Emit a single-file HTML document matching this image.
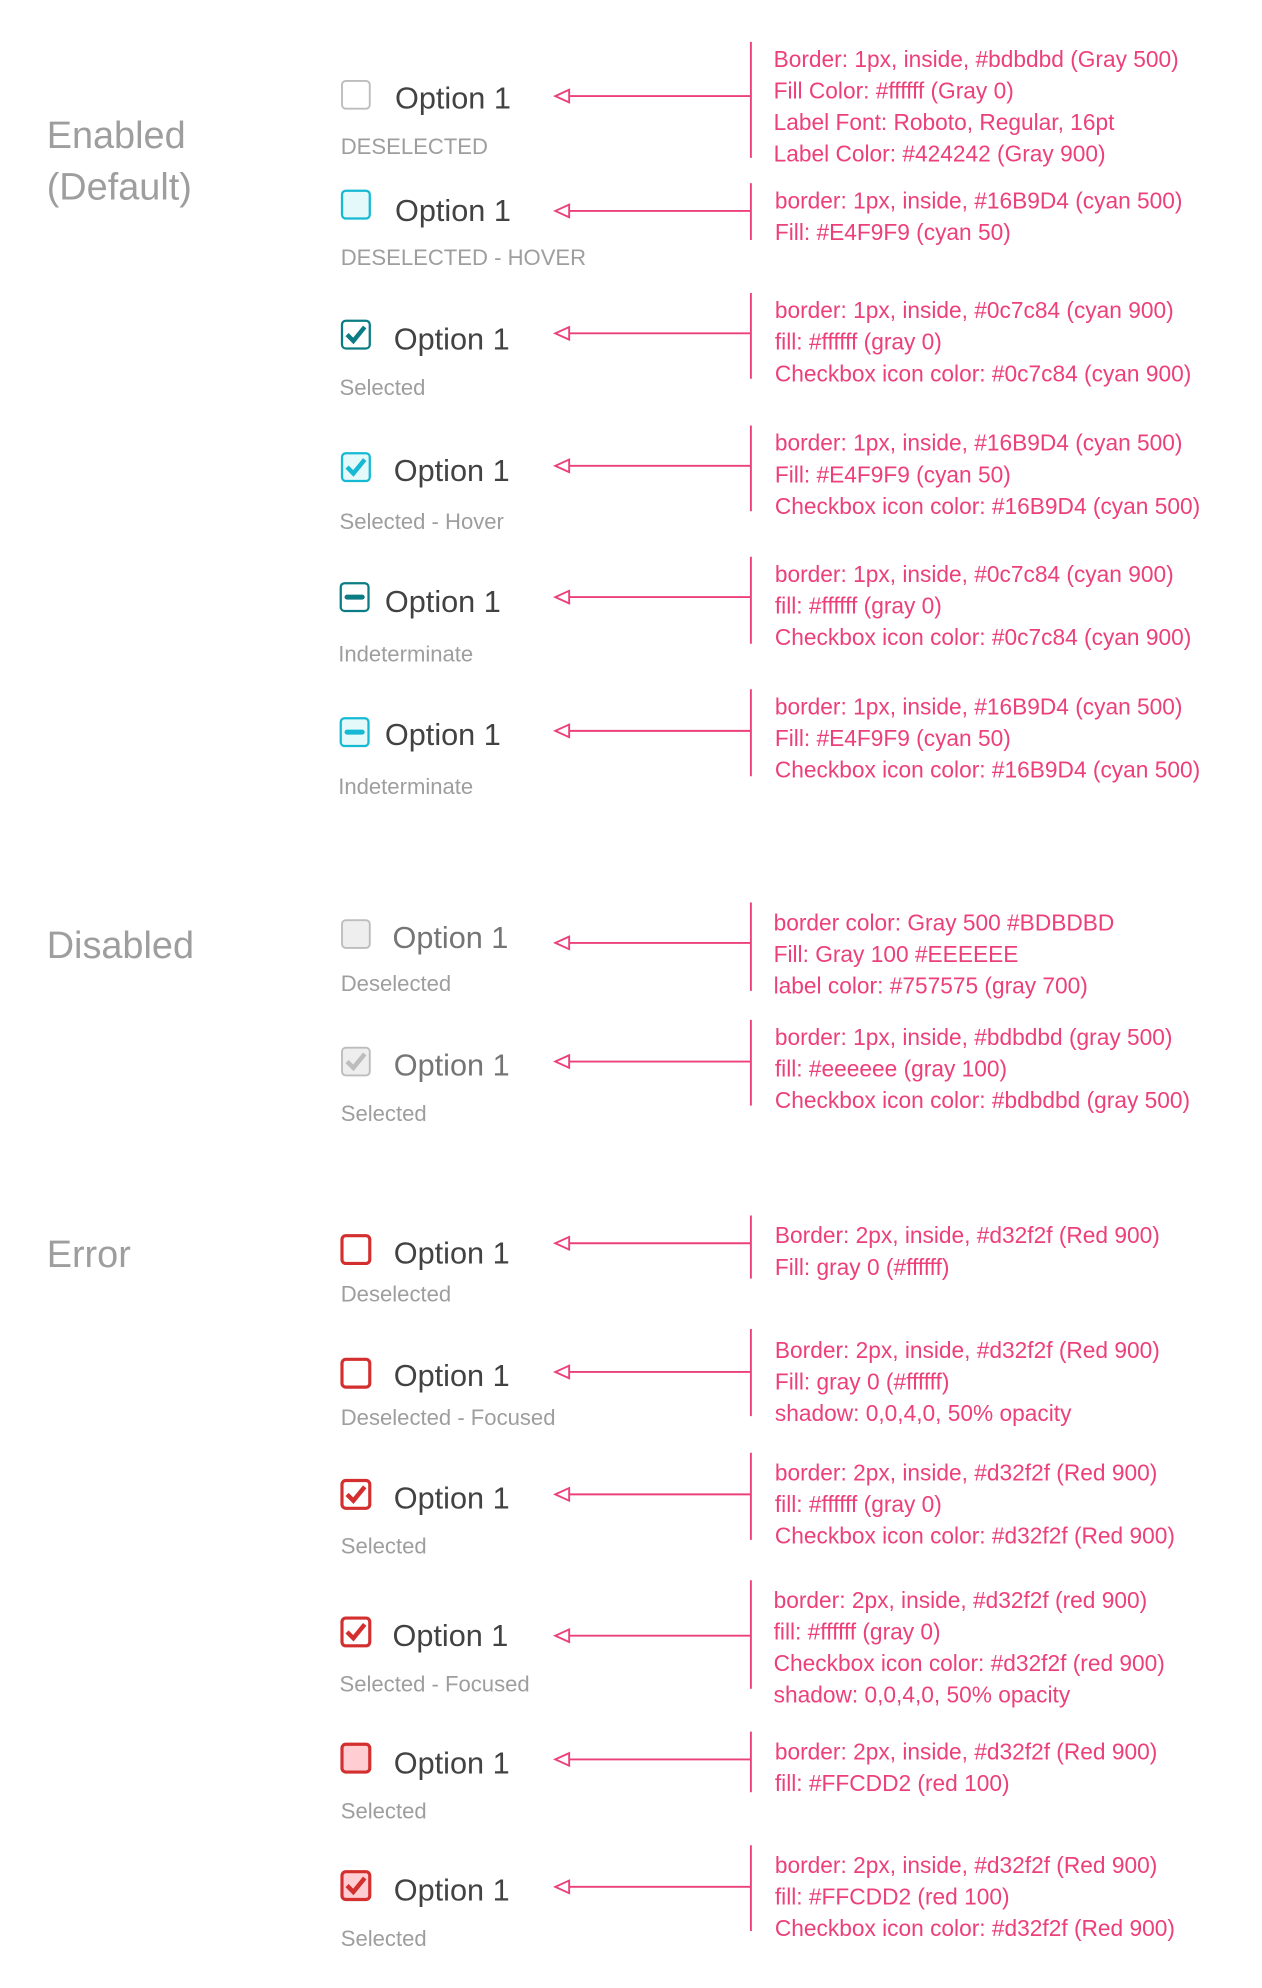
<!DOCTYPE html>
<html><head><meta charset="utf-8"><style>
html,body{margin:0;padding:0;background:#fff;}
svg{display:block;}
text{font-family:"Liberation Sans",sans-serif;}
.h{font-size:30px;fill:#9e9e9e;}
.o{font-size:24.3px;fill:#424242;}
.od{font-size:24.3px;fill:#757575;}
.s{font-size:17.5px;fill:#9e9e9e;}
.a{font-size:18px;fill:#ec407a;}
.ln{stroke:#ec407a;stroke-width:1.5;fill:none;}
.hd{stroke:#ec407a;stroke-width:1.5;fill:#fff;}
</style></head><body>
<svg width="1262" height="1988" viewBox="0 0 1000 1575" xmlns="http://www.w3.org/2000/svg">
<text class="h" x="37" y="117">Enabled</text>
<text class="h" x="37" y="158">(Default)</text>
<text class="h" x="37" y="759">Disabled</text>
<text class="h" x="37" y="1004">Error</text>

<rect x="271" y="64" width="22" height="22" rx="3" fill="#fff" stroke="#bdbdbd" stroke-width="1.5"/>
<rect x="271" y="151" width="22" height="22" rx="3" fill="#E4F9F9" stroke="#16B9D4" stroke-width="1.8"/>
<rect x="271" y="254" width="22" height="22" rx="3" fill="#fff" stroke="#0c7c84" stroke-width="1.8"/>
<path d="M275 265 L280 270 L289 259" stroke="#0c7c84" stroke-width="3.5" fill="none"/>
<rect x="271" y="359" width="22" height="22" rx="3" fill="#E4F9F9" stroke="#16B9D4" stroke-width="1.8"/>
<path d="M275 370 L280 375 L289 364" stroke="#16B9D4" stroke-width="3.5" fill="none"/>
<rect x="270" y="462" width="22" height="22" rx="3" fill="#fff" stroke="#0c7c84" stroke-width="1.8"/>
<line x1="275" y1="473" x2="287" y2="473" stroke="#0c7c84" stroke-width="4" stroke-linecap="round"/>
<rect x="270" y="569" width="22" height="22" rx="3" fill="#E4F9F9" stroke="#16B9D4" stroke-width="1.8"/>
<line x1="275" y1="580" x2="287" y2="580" stroke="#16B9D4" stroke-width="4" stroke-linecap="round"/>
<rect x="271" y="729" width="22" height="22" rx="3" fill="#eeeeee" stroke="#bdbdbd" stroke-width="1.5"/>
<rect x="271" y="830" width="22" height="22" rx="3" fill="#eeeeee" stroke="#bdbdbd" stroke-width="1.5"/>
<path d="M275 841 L280 846 L289 835" stroke="#bdbdbd" stroke-width="3.5" fill="none"/>
<rect x="271" y="979" width="22" height="22" rx="3" fill="#fff" stroke="#d32f2f" stroke-width="2.5"/>
<rect x="271" y="1077" width="22" height="22" rx="3" fill="#fff" stroke="#d32f2f" stroke-width="2.5"/>
<rect x="271" y="1173" width="22" height="22" rx="3" fill="#fff" stroke="#d32f2f" stroke-width="2.5"/>
<path d="M275 1184 L280 1189 L289 1178" stroke="#d32f2f" stroke-width="3.5" fill="none"/>
<rect x="271" y="1282" width="22" height="22" rx="3" fill="#fff" stroke="#d32f2f" stroke-width="2.5"/>
<path d="M275 1293 L280 1298 L289 1287" stroke="#d32f2f" stroke-width="3.5" fill="none"/>
<rect x="271" y="1382" width="22" height="22" rx="3" fill="#FFCDD2" stroke="#d32f2f" stroke-width="2.5"/>
<rect x="271" y="1483" width="22" height="22" rx="3" fill="#FFCDD2" stroke="#d32f2f" stroke-width="2.5"/>
<path d="M275 1494 L280 1499 L289 1488" stroke="#d32f2f" stroke-width="3.5" fill="none"/>

<text class="o" x="313" y="86">Option 1</text>
<text class="o" x="313" y="175">Option 1</text>
<text class="o" x="312" y="277">Option 1</text>
<text class="o" x="312" y="381">Option 1</text>
<text class="o" x="305" y="485">Option 1</text>
<text class="o" x="305" y="590">Option 1</text>
<text class="od" x="311" y="751">Option 1</text>
<text class="od" x="312" y="852">Option 1</text>
<text class="o" x="312" y="1001">Option 1</text>
<text class="o" x="312" y="1098">Option 1</text>
<text class="o" x="312" y="1195">Option 1</text>
<text class="o" x="311" y="1304">Option 1</text>
<text class="o" x="312" y="1405">Option 1</text>
<text class="o" x="312" y="1506">Option 1</text>

<text class="s" x="270" y="122">DESELECTED</text>
<text class="s" x="270" y="210">DESELECTED - HOVER</text>
<text class="s" x="269" y="313">Selected</text>
<text class="s" x="269" y="419">Selected - Hover</text>
<text class="s" x="268" y="524">Indeterminate</text>
<text class="s" x="268" y="629">Indeterminate</text>
<text class="s" x="270" y="785">Deselected</text>
<text class="s" x="270" y="888">Selected</text>
<text class="s" x="270" y="1031">Deselected</text>
<text class="s" x="270" y="1129">Deselected - Focused</text>
<text class="s" x="270" y="1231">Selected</text>
<text class="s" x="269" y="1340">Selected - Focused</text>
<text class="s" x="270" y="1441">Selected</text>
<text class="s" x="270" y="1542">Selected</text>

<g>
<line class="ln" x1="450" y1="76" x2="595" y2="76"/><polygon class="hd" points="440,76 451,71 451,81"/><line class="ln" x1="595" y1="33" x2="595" y2="125"/>
<line class="ln" x1="450" y1="167" x2="595" y2="167"/><polygon class="hd" points="440,167 451,162 451,172"/><line class="ln" x1="595" y1="145" x2="595" y2="190"/>
<line class="ln" x1="450" y1="264" x2="595" y2="264"/><polygon class="hd" points="440,264 451,259 451,269"/><line class="ln" x1="595" y1="232" x2="595" y2="300"/>
<line class="ln" x1="450" y1="369" x2="595" y2="369"/><polygon class="hd" points="440,369 451,364 451,374"/><line class="ln" x1="595" y1="337" x2="595" y2="405"/>
<line class="ln" x1="450" y1="473" x2="595" y2="473"/><polygon class="hd" points="440,473 451,468 451,478"/><line class="ln" x1="595" y1="441" x2="595" y2="510"/>
<line class="ln" x1="450" y1="579" x2="595" y2="579"/><polygon class="hd" points="440,579 451,574 451,584"/><line class="ln" x1="595" y1="546" x2="595" y2="615"/>
<line class="ln" x1="450" y1="747" x2="595" y2="747"/><polygon class="hd" points="440,747 451,742 451,752"/><line class="ln" x1="595" y1="715" x2="595" y2="785"/>
<line class="ln" x1="450" y1="841" x2="595" y2="841"/><polygon class="hd" points="440,841 451,836 451,846"/><line class="ln" x1="595" y1="808" x2="595" y2="876"/>
<line class="ln" x1="450" y1="985" x2="595" y2="985"/><polygon class="hd" points="440,985 451,980 451,990"/><line class="ln" x1="595" y1="963" x2="595" y2="1013"/>
<line class="ln" x1="450" y1="1087" x2="595" y2="1087"/><polygon class="hd" points="440,1087 451,1082 451,1092"/><line class="ln" x1="595" y1="1053" x2="595" y2="1122"/>
<line class="ln" x1="450" y1="1184" x2="595" y2="1184"/><polygon class="hd" points="440,1184 451,1179 451,1189"/><line class="ln" x1="595" y1="1151" x2="595" y2="1220"/>
<line class="ln" x1="450" y1="1296" x2="595" y2="1296"/><polygon class="hd" points="440,1296 451,1291 451,1301"/><line class="ln" x1="595" y1="1252" x2="595" y2="1338"/>
<line class="ln" x1="450" y1="1394" x2="595" y2="1394"/><polygon class="hd" points="440,1394 451,1389 451,1399"/><line class="ln" x1="595" y1="1372" x2="595" y2="1420"/>
<line class="ln" x1="450" y1="1495" x2="595" y2="1495"/><polygon class="hd" points="440,1495 451,1490 451,1500"/><line class="ln" x1="595" y1="1462" x2="595" y2="1530"/>
</g>

<g>
<text class="a" x="613" y="53">Border: 1px, inside, #bdbdbd (Gray 500)</text>
<text class="a" x="613" y="78">Fill Color: #ffffff (Gray 0)</text>
<text class="a" x="613" y="103">Label Font: Roboto, Regular, 16pt</text>
<text class="a" x="613" y="128">Label Color: #424242 (Gray 900)</text>
<text class="a" x="614" y="165">border: 1px, inside, #16B9D4 (cyan 500)</text>
<text class="a" x="614" y="190">Fill: #E4F9F9 (cyan 50)</text>
<text class="a" x="614" y="252">border: 1px, inside, #0c7c84 (cyan 900)</text>
<text class="a" x="614" y="277">fill: #ffffff (gray 0)</text>
<text class="a" x="614" y="302">Checkbox icon color: #0c7c84 (cyan 900)</text>
<text class="a" x="614" y="357">border: 1px, inside, #16B9D4 (cyan 500)</text>
<text class="a" x="614" y="382">Fill: #E4F9F9 (cyan 50)</text>
<text class="a" x="614" y="407">Checkbox icon color: #16B9D4 (cyan 500)</text>
<text class="a" x="614" y="461">border: 1px, inside, #0c7c84 (cyan 900)</text>
<text class="a" x="614" y="486">fill: #ffffff (gray 0)</text>
<text class="a" x="614" y="511">Checkbox icon color: #0c7c84 (cyan 900)</text>
<text class="a" x="614" y="566">border: 1px, inside, #16B9D4 (cyan 500)</text>
<text class="a" x="614" y="591">Fill: #E4F9F9 (cyan 50)</text>
<text class="a" x="614" y="616">Checkbox icon color: #16B9D4 (cyan 500)</text>
<text class="a" x="613" y="737">border color: Gray 500 #BDBDBD</text>
<text class="a" x="613" y="762">Fill: Gray 100 #EEEEEE</text>
<text class="a" x="613" y="787">label color: #757575 (gray 700)</text>
<text class="a" x="614" y="828">border: 1px, inside, #bdbdbd (gray 500)</text>
<text class="a" x="614" y="853">fill: #eeeeee (gray 100)</text>
<text class="a" x="614" y="878">Checkbox icon color: #bdbdbd (gray 500)</text>
<text class="a" x="614" y="985">Border: 2px, inside, #d32f2f (Red 900)</text>
<text class="a" x="614" y="1010">Fill: gray 0 (#ffffff)</text>
<text class="a" x="614" y="1076">Border: 2px, inside, #d32f2f (Red 900)</text>
<text class="a" x="614" y="1101">Fill: gray 0 (#ffffff)</text>
<text class="a" x="614" y="1126">shadow: 0,0,4,0, 50% opacity</text>
<text class="a" x="614" y="1173">border: 2px, inside, #d32f2f (Red 900)</text>
<text class="a" x="614" y="1198">fill: #ffffff (gray 0)</text>
<text class="a" x="614" y="1223">Checkbox icon color: #d32f2f (Red 900)</text>
<text class="a" x="613" y="1274">border: 2px, inside, #d32f2f (red 900)</text>
<text class="a" x="613" y="1299">fill: #ffffff (gray 0)</text>
<text class="a" x="613" y="1324">Checkbox icon color: #d32f2f (red 900)</text>
<text class="a" x="613" y="1349">shadow: 0,0,4,0, 50% opacity</text>
<text class="a" x="614" y="1394">border: 2px, inside, #d32f2f (Red 900)</text>
<text class="a" x="614" y="1419">fill: #FFCDD2 (red 100)</text>
<text class="a" x="614" y="1484">border: 2px, inside, #d32f2f (Red 900)</text>
<text class="a" x="614" y="1509">fill: #FFCDD2 (red 100)</text>
<text class="a" x="614" y="1534">Checkbox icon color: #d32f2f (Red 900)</text>
</g>
</svg>
</body></html>
